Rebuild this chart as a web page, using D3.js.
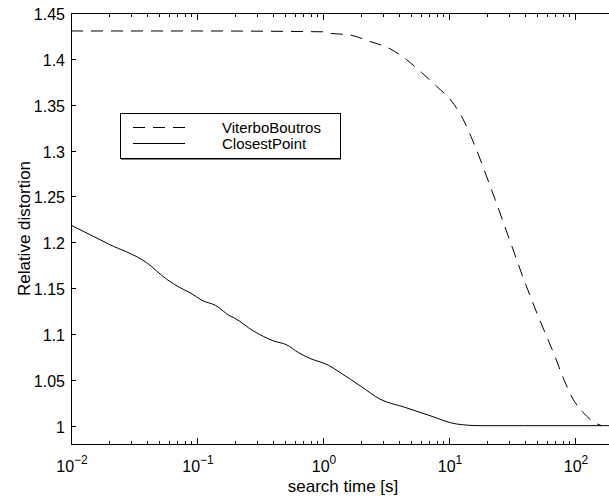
<!DOCTYPE html>
<html><head><meta charset="utf-8">
<script src="https://cdn.jsdelivr.net/npm/d3@7"></script>
<style>body{margin:0;background:#fff}svg{display:block}text{font-family:"Liberation Sans",Arial,sans-serif}</style>
</head><body><svg id="c" width="609" height="497"></svg>
<script>
// log10(search time) and relative distortion
const cpLogX = [-2, -1.7, -1.4, -1.24, -1.135, -1.056, -0.95, -0.855, -0.738, -0.70, -0.553, -0.394, -0.288, -0.196, -0.103, 0.042, 0.135, 0.30, 0.452, 0.65, 0.849, 1.06, 1.246, 1.6, 2.0, 2.3];
const cpVals = [1.2186, 1.198, 1.1777, 1.1596, 1.1505, 1.145, 1.136, 1.1313, 1.1196, 1.1171, 1.1033, 1.0925, 1.0881, 1.0798, 1.0733, 1.066, 1.058, 1.043, 1.029, 1.02, 1.0109, 1.0018, 1.0, 1.0, 1.0, 1.0];
const vbLogX = [-2, -1.0, 0.0, 0.04, 0.214, 0.373, 0.532, 0.664, 0.783, 0.902, 1.02, 1.1, 1.2, 1.33, 1.48, 1.595, 1.655, 1.707, 1.773, 1.839, 1.905, 1.984, 2.063, 2.143, 2.21];
const vbVals = [1.4304, 1.4304, 1.4295, 1.4282, 1.426, 1.419, 1.411, 1.399, 1.385, 1.370, 1.354, 1.3372, 1.307, 1.260, 1.203, 1.159, 1.1377, 1.1196, 1.0979, 1.0761, 1.0526, 1.029, 1.0146, 1.0044, 1.0];
const yTicks = [1, 1.05, 1.1, 1.15, 1.2, 1.25, 1.3, 1.35, 1.4, 1.45];
const xExps = [-2, -1, 0, 1, 2];
const seriesNames = ["ViterboBoutros", "ClosestPoint"];

const svg = d3.select("#c");
const L = 71, T = 13, B = 444;
const x = d3.scaleLog().domain([0.01, 100]).range([L, 575]);
const y = d3.scaleLinear().domain([0.98, 1.45]).range([B, T]);
const W = 609;

const g = svg.append("g");
g.append("line").attr("x1", L).attr("x2", W).attr("y1", T + 0.5).attr("y2", T + 0.5).attr("stroke", "#000");
g.append("line").attr("x1", L).attr("x2", W).attr("y1", B + 0.5).attr("y2", B + 0.5).attr("stroke", "#000");
g.append("line").attr("x1", L + 0.5).attr("x2", L + 0.5).attr("y1", T).attr("y2", B + 1).attr("stroke", "#000");

// x ticks
const xt = [];
for (let e = -2; e <= 2; e++) for (let m = 1; m <= 9; m++) { const v = m * Math.pow(10, e); if (x(v) < W) xt.push({v, major: m === 1}); }
xt.forEach(d => {
  const px = Math.round(x(d.v)) + 0.5, len = d.major ? 6 : 3;
  g.append("line").attr("x1", px).attr("x2", px).attr("y1", B).attr("y2", B - len).attr("stroke", "#000");
  g.append("line").attr("x1", px).attr("x2", px).attr("y1", T + 1).attr("y2", T + 1 + len).attr("stroke", "#000");
});
xExps.forEach(e => {
  const t = g.append("text").attr("x", x(Math.pow(10, e)) + 1).attr("y", 472).attr("text-anchor", "middle").attr("font-size", 16);
  t.append("tspan").text("10");
  t.append("tspan").attr("dy", -8).attr("font-size", 12).text(e < 0 ? "\u2212" + (-e) : e);
});
// y ticks
yTicks.forEach(v => {
  const py = Math.round(y(v)) + 0.5;
  g.append("line").attr("x1", L).attr("x2", L + 5).attr("y1", py).attr("y2", py).attr("stroke", "#000");
  g.append("text").attr("x", 65).attr("y", py + 6).attr("text-anchor", "end").attr("font-size", 16).text(v);
});

// axis labels
g.append("text").attr("x", 343).attr("y", 492).attr("text-anchor", "middle").attr("font-size", 17).text("search time [s]");
g.append("text").attr("transform", `translate(30,${(T + B) / 2}) rotate(-90)`).attr("text-anchor", "middle").attr("font-size", 17).text("Relative distortion");

// clip
svg.append("clipPath").attr("id", "clip").append("rect").attr("x", L).attr("y", T).attr("width", W - L).attr("height", B - T);
const line = d3.line().x(d => x(Math.pow(10, d[0]))).y(d => y(d[1])).curve(d3.curveMonotoneX);
const pg = svg.append("g").attr("clip-path", "url(#clip)");
pg.append("path").attr("d", line(vbLogX.map((v, i) => [v, vbVals[i]]))).attr("fill", "none").attr("stroke", "#000").attr("stroke-width", 1).attr("stroke-dasharray", "12,8");
pg.append("path").attr("d", line(cpLogX.map((v, i) => [v, cpVals[i]]))).attr("fill", "none").attr("stroke", "#000").attr("stroke-width", 1);

// legend
const lg = svg.append("g");
lg.append("rect").attr("x", 120.5).attr("y", 113.5).attr("width", 220).attr("height", 45).attr("fill", "#fff").attr("stroke", "#000");
lg.append("line").attr("x1", 121).attr("x2", 341).attr("y1", 159).attr("y2", 159).attr("stroke", "#000");
seriesNames.forEach((n, i) => {
  const ly = 127.5 + i * 16;
  lg.append("line").attr("x1", 133).attr("x2", 185).attr("y1", ly).attr("y2", ly).attr("stroke", "#000").attr("stroke-dasharray", i === 0 ? "12,8" : null);
  lg.append("text").attr("x", 222).attr("y", ly + 5.5).attr("font-size", 15).text(n);
});
</script></body></html>
